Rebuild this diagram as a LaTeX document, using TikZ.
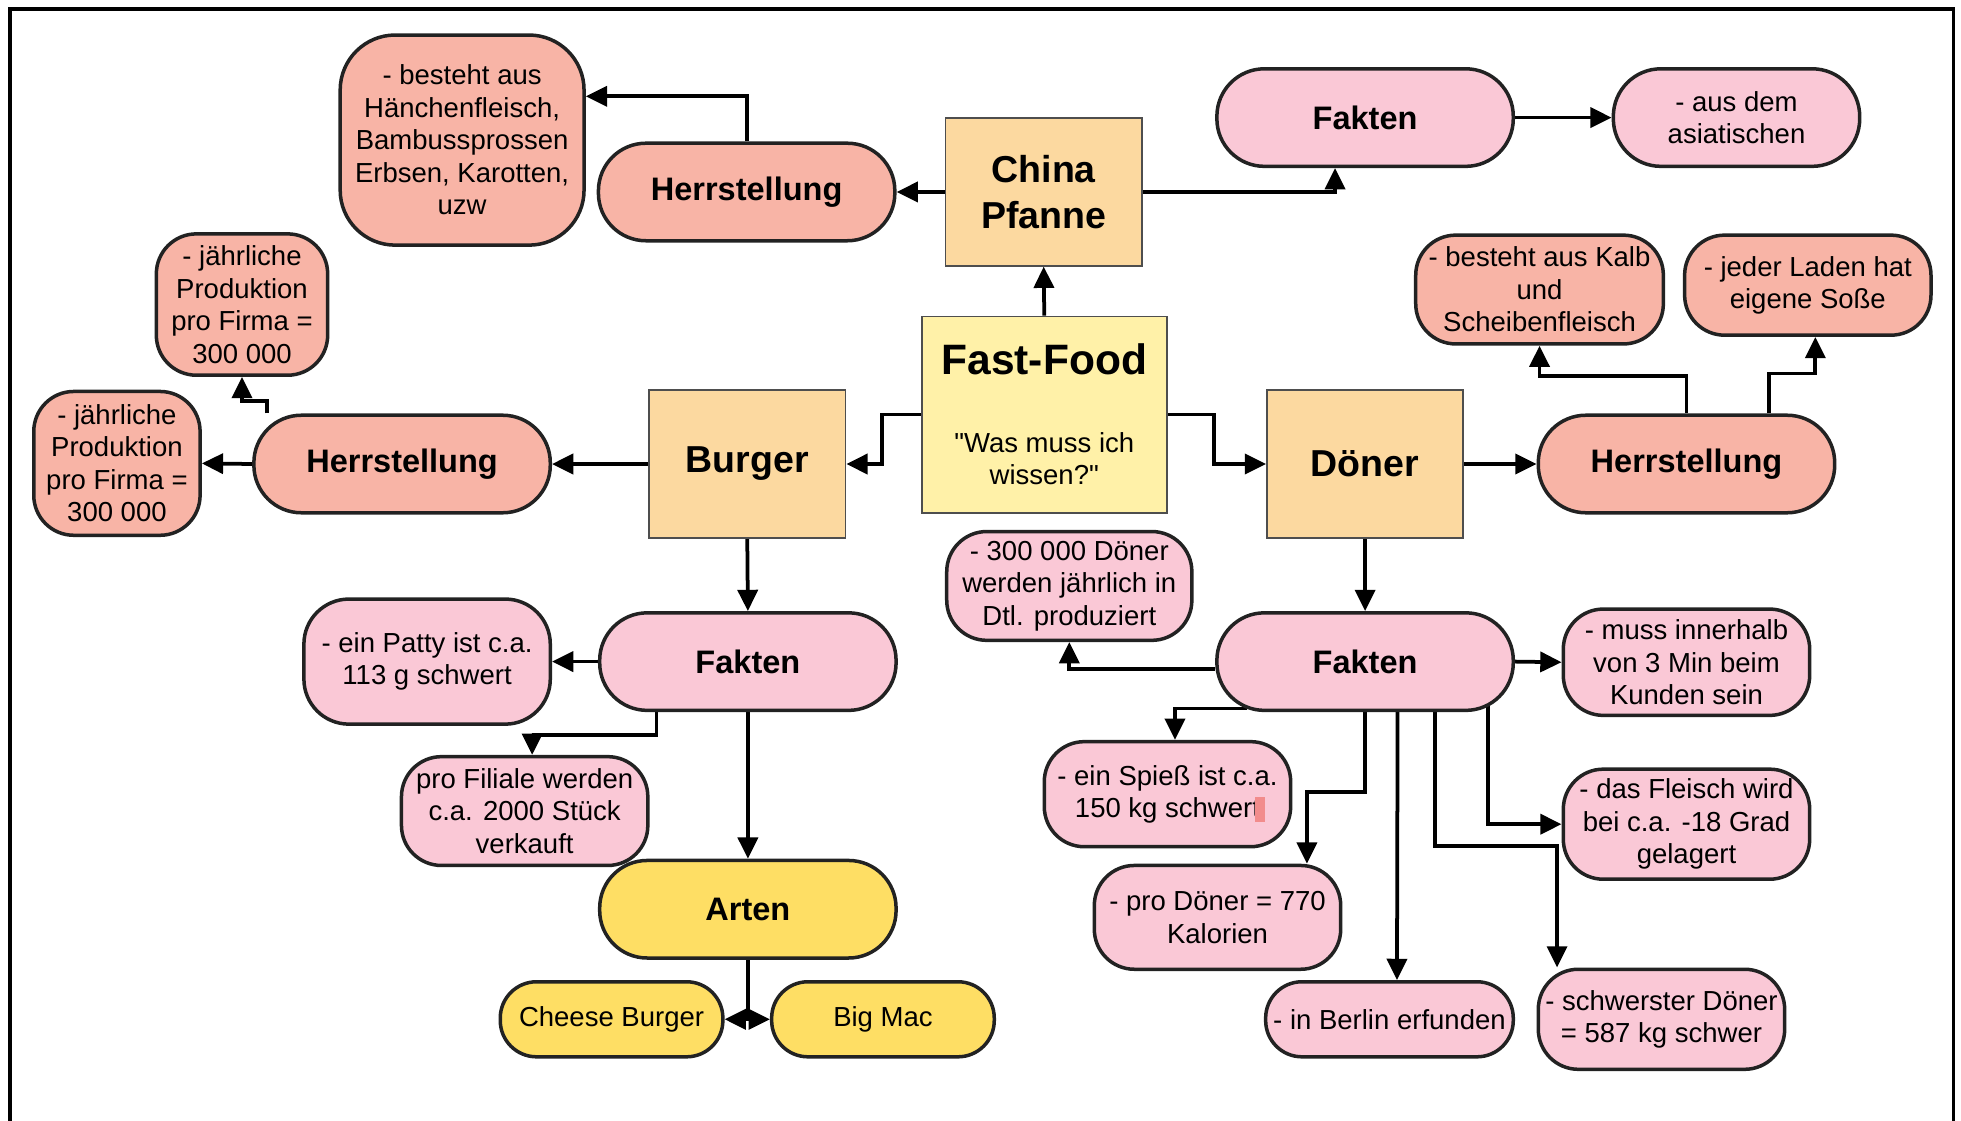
\documentclass[tikz,border=0pt]{standalone}
\usepackage{fontspec}
\setmainfont{Liberation Sans}[Ligatures=TeXOff]
\usetikzlibrary{arrows.meta}
\pgfdeclarelayer{background}
\pgfsetlayers{background,main}
\definecolor{kastenorange}{HTML}{FCD9A0}
\definecolor{fastgelb}{HTML}{FFF1A8}
\definecolor{lachs}{HTML}{F8B4A6}
\definecolor{rosa}{HTML}{FAC8D6}
\definecolor{gelb}{HTML}{FEDE64}
\definecolor{rand}{HTML}{222222}
\definecolor{markrot}{HTML}{F28C8C}
\begin{document}
\begin{tikzpicture}[x=0.5pt,y=-0.5pt]
				\tikzstyle{Thema} = [rectangle, draw=rand!80, line width=0.7pt, fill=kastenorange, minimum width=78.5pt, minimum height=59pt, align=center, font=\fontsize{15}{18.5}\selectfont\bfseries]
				\tikzstyle{Oval} = [rectangle, rounded corners=19pt, draw=rand, line width=1.4pt, minimum width=118.5pt, minimum height=39pt, font=\fontsize{13}{16}\selectfont\bfseries]
				\tikzstyle{Info} = [rectangle, rounded corners=14pt, draw=rand, line width=1.4pt, inner sep=0pt, minimum width=98.5pt, align=center, font=\fontsize{11}{13}\selectfont]
				\tikzstyle{Sorte} = [rectangle, rounded corners=14.5pt, draw=rand, line width=1.4pt, fill=gelb, minimum width=89pt, minimum height=30pt, font=\fontsize{11}{13}\selectfont]
				\tikzstyle{Pfeil} = [-{Triangle[length=8.5pt,width=8pt]}, line width=1.5pt, draw=black]
				\useasboundingbox (0,0) rectangle (1568,896);
				\draw [line width=1.5pt] (8,896) -- (8,7) -- (1562,7) -- (1562,896);
				\node (ff) at (835,331.5) [Thema, fill=fastgelb, minimum width=98pt, minimum height=78.5pt, font=\fontsize{11}{13}\selectfont] {{\fontsize{17}{20}\selectfont\bfseries Fast-Food}\\[18pt]"Was muss ich\\wissen?"};
				\node (china) at (834.5,153.5) [Thema] {China\\Pfanne};
				\node (burger) at (597.5,371) [Thema] {Burger};
				\node (doener) at (1091.5,371) [Thema] {Döner};
				\node (cherr) at (597,153.5) [Oval, fill=lachs] {Herrstellung};
				\node (cbest) at (369.5,112) [Info, fill=lachs, minimum width=97.5pt, minimum height=84pt, rounded corners=22pt] {- besteht aus\\Hänchenfleisch,\\Bambussprossen\\Erbsen, Karotten,\\uzw};
				\node (cfakt) at (1091.5,94) [Oval, fill=rosa] {Fakten};
				\node (casia) at (1388.5,94) [Info, fill=rosa, minimum height=39pt, rounded corners=19pt] {- aus dem\\asiatischen};
				\node (bherr) at (321.5,371) [Oval, fill=lachs] {Herrstellung};
				\node (bjahr1) at (193.5,243.5) [Info, fill=lachs, minimum width=68.5pt, minimum height=56.5pt, rounded corners=16pt] {- jährliche\\Produktion\\pro Firma =\\300 000};
				\node (bjahr2) at (93.5,370.5) [Info, fill=lachs, minimum width=66.5pt, minimum height=57.5pt, rounded corners=16pt] {- jährliche\\Produktion\\pro Firma =\\300 000};
				\node (bfakt) at (598,529) [Oval, fill=rosa] {Fakten};
				\node (patty) at (341.5,529) [Info, fill=rosa, minimum height=50pt, rounded corners=18pt] {- ein Patty ist c.a.\\113 g schwert};
				\node (filiale) at (419.5,648.5) [Info, fill=rosa, minimum height=43.5pt, rounded corners=16pt] {pro Filiale werden\\c.a. 2000 Stück\\verkauft};
				\node (arten) at (598,727) [Oval, fill=gelb] {Arten};
				\node (cheese) at (489,815) [Sorte] {Cheese Burger};
				\node (bigmac) at (706,815) [Sorte] {Big Mac};
				\node (dherr) at (1348.5,371) [Oval, fill=lachs] {Herrstellung};
				\node (kalb) at (1231,231.5) [Info, fill=lachs, minimum width=99pt, minimum height=43.5pt, rounded corners=16pt] {- besteht aus Kalb\\und\\Scheibenfleisch};
				\node (sosse) at (1445.5,228) [Info, fill=lachs, minimum height=40pt, rounded corners=16pt] {- jeder Laden hat\\eigene Soße};
				\node (dfakt) at (1091.5,529) [Oval, fill=rosa] {Fakten};
				\node (d300) at (855,468.5) [Info, fill=rosa, minimum width=98pt, minimum height=43.5pt, rounded corners=16pt] {- 300 000 Döner\\werden jährlich in\\Dtl. produziert};
				\node (minuten) at (1348.5,529.5) [Info, fill=rosa, minimum height=42.5pt, rounded corners=16pt] {- muss innerhalb\\von 3 Min beim\\Kunden sein};
				\node (spiess) at (933.5,635) [Info, fill=rosa, minimum height=42pt, rounded corners=16pt] {- ein Spieß ist c.a.\\150 kg schwert};
				\node (kalorien) at (973.5,733.5) [Info, fill=rosa, minimum height=41.5pt, rounded corners=16pt] {- pro Döner = 770\\Kalorien};
				\node (berlin) at (1111,815) [Info, fill=rosa, minimum width=99pt, minimum height=30pt, rounded corners=14.5pt] {- in Berlin erfunden};
				\node (fleisch) at (1348.5,659) [Info, fill=rosa, minimum height=44pt, rounded corners=16pt] {- das Fleisch wird\\bei c.a. -18 Grad\\gelagert};
				\node (schwer) at (1328.5,815) [Info, fill=rosa, minimum height=40pt, rounded corners=16pt] {- schwerster Döner\\= 587 kg schwer};
				\fill [markrot] ([xshift=35pt,yshift=-1pt]spiess.center) rectangle ++(8,20);
				\begin{pgfonlayer}{background}
				\draw [Pfeil] (ff.north) to (china.south);
				\draw [Pfeil] (ff.west) -- ++(-31,0) |- (burger.east);
				\draw [Pfeil] (ff.east) -- ++(37,0) |- (doener.west);
				\draw [Pfeil] (china.west) to (cherr.east);
				\draw [Pfeil] (cherr.north) |- ([yshift=17.5pt]cbest.east);
				\draw [Pfeil] (china.east) -| ([xshift=-12pt]cfakt.south);
				\draw [Pfeil] (cfakt.east) to (casia.west);
				\draw [Pfeil] (burger.west) to (bherr.east);
				\draw [Pfeil] (bherr.west) to (bjahr2.east);
				\draw [Pfeil] ([xshift=6pt]bherr.north west) -- ++(0,-10) -| (bjahr1.south);
				\draw [Pfeil] (burger.south) to (bfakt.north);
				\draw [Pfeil] (bfakt.west) to (patty.east);
				\draw [Pfeil] ([xshift=-36.5pt]bfakt.south) -- ++(0,18) -| ([xshift=3pt]filiale.north);
				\draw [Pfeil] (bfakt.south) to (arten.north);
				\draw [Pfeil] (arten.south) |- (cheese.east);
				\draw [Pfeil] (arten.south) |- (bigmac.west);
				\draw [Pfeil] (doener.east) to (dherr.west);
				\draw [Pfeil] (dherr.north) -- ++(0,-30) -| (kalb.south);
				\draw [Pfeil] ([xshift=33pt]dherr.north) -- ++(0,-32) -| ([xshift=3pt]sosse.south);
				\draw [Pfeil] (doener.south) to (dfakt.north);
				\draw [Pfeil] ([yshift=-3pt]dfakt.west) -| (d300.south);
				\draw [Pfeil] (dfakt.east) to (minuten.west);
				\draw [Pfeil] ([xshift=-48pt,yshift=4pt]dfakt.south) -- ++(0,5) -| ([xshift=3pt]spiess.north);
				\draw [Pfeil] (dfakt.south) -- ++(0,64) -| ([xshift=35.75pt]kalorien.north);
				\draw [Pfeil] ([xshift=13pt]dfakt.south) to ([xshift=3pt]berlin.north);
				\draw [Pfeil] ([xshift=28pt]dfakt.south) -- ++(0,107) -| ([xshift=-41.75pt]schwer.north);
				\draw [Pfeil] ([xshift=49pt,yshift=4pt]dfakt.south) |- (fleisch.west);
				\end{pgfonlayer}
			\end{tikzpicture}
\end{document}
